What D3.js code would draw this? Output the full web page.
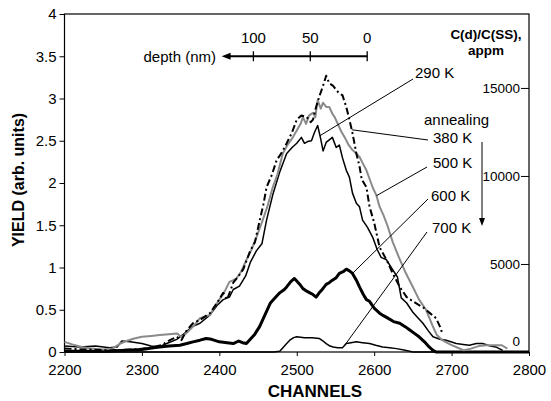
<!DOCTYPE html>
<html>
<head>
<meta charset="utf-8">
<script src="https://cdn.jsdelivr.net/npm/d3@7"></script>
<style>
  html, body { margin: 0; padding: 0; background: #fff; }
  svg { display: block; font-family: "Liberation Sans", Arial, sans-serif; }
</style>
</head>
<body>
<svg id="chart" width="551" height="401"></svg>
<script>
// Channel ticks and yield ticks
const xTicks = [2200, 2300, 2400, 2500, 2600, 2700, 2800];
const yTicks = [0, 0.5, 1, 1.5, 2, 2.5, 3, 3.5, 4];
const concTicks = [0, 5000, 10000, 15000];
const depthTicks = [100, 50, 0];

// RBS yield spectra after annealing: [channel, yield]
const s290 = [[2200,0.07],[2220,0.06],[2240,0.07],[2258,0.05],[2268,0.06],[2274,0.13],[2285,0.12],[2300,0.1],[2312,0.07],[2322,0.06],[2332,0.1],[2345,0.15],[2355,0.22],[2365,0.3],[2375,0.34],[2388,0.44],[2397,0.55],[2405,0.62],[2413,0.65],[2418,0.74],[2426,0.78],[2434,0.9],[2440,1.06],[2448,1.2],[2455,1.28],[2461,1.56],[2469,1.86],[2478,2.13],[2487,2.35],[2494,2.42],[2500,2.47],[2506,2.54],[2510,2.47],[2514,2.49],[2519,2.5],[2523,2.6],[2527,2.68],[2531,2.52],[2534,2.38],[2538,2.48],[2546,2.54],[2551,2.42],[2555,2.45],[2559,2.3],[2564,2.15],[2568,2.07],[2572,1.88],[2577,1.76],[2581,1.72],[2585,1.56],[2591,1.48],[2598,1.36],[2604,1.21],[2609,1.12],[2616,1.09],[2622,1.0],[2630,0.89],[2635,0.64],[2642,0.58],[2650,0.47],[2657,0.4],[2663,0.34],[2670,0.25],[2676,0.18],[2685,0.15],[2693,0.14],[2706,0.1],[2715,0.09],[2723,0.08],[2732,0.1],[2740,0.1],[2750,0.07],[2757,0.06],[2766,0.02]];

const s380 = [[2200,0.04],[2230,0.03],[2260,0.02],[2290,0.03],[2310,0.05],[2325,0.08],[2336,0.14],[2345,0.18],[2351,0.14],[2358,0.26],[2366,0.34],[2375,0.38],[2388,0.46],[2397,0.58],[2405,0.7],[2410,0.62],[2418,0.82],[2425,0.9],[2431,0.98],[2440,1.2],[2446,1.3],[2452,1.55],[2457,1.75],[2461,1.95],[2468,2.1],[2474,2.27],[2480,2.35],[2487,2.47],[2494,2.6],[2500,2.75],[2506,2.8],[2513,2.78],[2518,2.72],[2521,2.75],[2525,2.9],[2529,3.02],[2534,3.15],[2538,3.27],[2542,3.18],[2547,3.15],[2551,3.1],[2555,3.06],[2559,3.04],[2564,2.9],[2568,2.75],[2572,2.59],[2577,2.35],[2581,2.2],[2584,2.04],[2590,1.95],[2594,1.72],[2600,1.53],[2607,1.24],[2616,1.09],[2624,0.93],[2633,0.77],[2642,0.65],[2650,0.6],[2657,0.56],[2663,0.53],[2672,0.46],[2680,0.4],[2685,0.3],[2688,0.22]];

const s500 = [[2200,0.12],[2210,0.09],[2222,0.06],[2235,0.04],[2250,0.03],[2262,0.04],[2272,0.1],[2280,0.13],[2290,0.16],[2300,0.18],[2312,0.19],[2323,0.2],[2335,0.21],[2345,0.22],[2351,0.18],[2357,0.22],[2366,0.3],[2375,0.4],[2382,0.42],[2388,0.44],[2395,0.55],[2400,0.62],[2406,0.7],[2413,0.83],[2418,0.85],[2422,0.87],[2428,0.95],[2435,1.09],[2441,1.2],[2448,1.36],[2456,1.56],[2462,1.72],[2469,1.95],[2475,2.1],[2482,2.35],[2488,2.45],[2495,2.54],[2500,2.62],[2505,2.7],[2508,2.78],[2512,2.7],[2516,2.8],[2521,2.83],[2524,2.78],[2527,2.98],[2531,2.88],[2534,2.95],[2538,2.9],[2542,2.9],[2546,2.82],[2549,2.78],[2555,2.66],[2558,2.6],[2562,2.54],[2567,2.45],[2572,2.39],[2577,2.35],[2581,2.31],[2586,2.22],[2590,2.15],[2594,2.05],[2598,1.95],[2603,1.85],[2607,1.72],[2612,1.62],[2617,1.5],[2624,1.3],[2632,1.12],[2640,0.95],[2650,0.77],[2658,0.62],[2667,0.5],[2675,0.32],[2681,0.2],[2688,0.14],[2698,0.09],[2708,0.05],[2716,0.02],[2725,0.04],[2735,0.07],[2745,0.08],[2755,0.08],[2765,0.08],[2772,0.04]];

const s600 = [[2200,0.01],[2250,0.01],[2280,0.02],[2300,0.03],[2315,0.05],[2323,0.06],[2335,0.07],[2349,0.08],[2358,0.1],[2366,0.12],[2375,0.14],[2383,0.16],[2390,0.15],[2400,0.12],[2410,0.11],[2418,0.1],[2425,0.13],[2430,0.11],[2435,0.1],[2440,0.15],[2445,0.2],[2452,0.3],[2456,0.38],[2461,0.48],[2466,0.58],[2470,0.62],[2478,0.7],[2484,0.74],[2487,0.77],[2492,0.83],[2497,0.87],[2500,0.84],[2504,0.8],[2508,0.75],[2513,0.72],[2517,0.7],[2521,0.68],[2525,0.65],[2529,0.7],[2532,0.73],[2538,0.8],[2542,0.82],[2546,0.85],[2551,0.88],[2555,0.93],[2560,0.95],[2564,0.98],[2568,0.96],[2572,0.93],[2577,0.85],[2581,0.77],[2586,0.68],[2590,0.62],[2594,0.6],[2600,0.52],[2607,0.46],[2612,0.43],[2616,0.41],[2625,0.36],[2633,0.34],[2640,0.3],[2646,0.26],[2652,0.22],[2658,0.18],[2665,0.12],[2671,0.06],[2676,0.02],[2680,0.0],[2800,0.0]];

const s700 = [[2200,0],[2470,0],[2478,0.01],[2483,0.06],[2487,0.1],[2491,0.14],[2496,0.17],[2500,0.18],[2510,0.17],[2520,0.17],[2529,0.16],[2534,0.13],[2538,0.1],[2543,0.07],[2547,0.06],[2553,0.05],[2559,0.05],[2562,0.08],[2564,0.1],[2570,0.11],[2577,0.12],[2585,0.11],[2594,0.1],[2602,0.08],[2611,0.06],[2620,0.05],[2629,0.04],[2640,0.02],[2650,0.0],[2800,0]];

// Series labels and the channel each leader line points at
const seriesNames = ["290 K", "380 K", "500 K", "600 K", "700 K"];
const seriesData = [s290, s380, s500, s600, s700];
const leaderChannels = [2530, 2571, 2603, 2572, 2562];

const svg = d3.select("#chart");
const plotLeft = 64.5, plotRight = 529, plotTop = 14, plotBottom = 352;

const x = d3.scaleLinear().domain([2200, 2800]).range([plotLeft, plotRight]);
const y = d3.scaleLinear().domain([0, 4]).range([plotBottom, plotTop]);
const yConc = d3.scaleLinear().domain([0, 19200]).range([plotBottom, plotTop]);
const depthToChannel = d3.scaleLinear().domain([0, 100]).range([2591, 2444]);

const styles = [
  { stroke: "#000", width: 1.5, dash: null },
  { stroke: "#000", width: 2, dash: "7,3,2,3" },
  { stroke: "#8a8a8a", width: 2, dash: null },
  { stroke: "#000", width: 3, dash: null },
  { stroke: "#000", width: 1.5, dash: null }
];

// Frame
svg.append("rect").attr("x", plotLeft).attr("y", plotTop)
  .attr("width", plotRight - plotLeft).attr("height", plotBottom - plotTop)
  .attr("fill", "none").attr("stroke", "#000").attr("stroke-width", 1.2);

// Curves
const line = d3.line().x(d => x(d[0])).y(d => y(d[1]));
const drawOrder = [4, 3, 0, 2, 1];
drawOrder.forEach(i => {
  svg.append("path").datum(seriesData[i])
    .attr("d", line)
    .attr("fill", "none")
    .attr("stroke", styles[i].stroke)
    .attr("stroke-width", styles[i].width)
    .attr("stroke-linejoin", "round")
    .attr("stroke-dasharray", styles[i].dash);
});

const fontFamily = "Liberation Sans, Arial, sans-serif";

// Left axis
const yAxis = d3.axisLeft(y).tickValues(yTicks).tickSize(5).tickPadding(3)
  .tickFormat(d => String(d));
const gy = svg.append("g").attr("transform", `translate(${plotLeft},0)`).call(yAxis);
gy.select(".domain").remove();
gy.selectAll("text").attr("font-size", 15).attr("font-family", fontFamily);

// Bottom axis
const xAxis = d3.axisBottom(x).tickValues(xTicks).tickSize(4).tickPadding(8)
  .tickFormat(d3.format("d"));
const gx = svg.append("g").attr("transform", `translate(0,${plotBottom})`).call(xAxis);
gx.select(".domain").remove();
gx.selectAll("text").attr("font-size", 15).attr("font-family", fontFamily);

// Right concentration axis (ticks inside)
const cAxis = d3.axisLeft(yConc).tickValues(concTicks).tickSize(8).tickPadding(1)
  .tickFormat(d3.format("d"));
const gc = svg.append("g").attr("transform", `translate(${plotRight},0)`).call(cAxis);
gc.select(".domain").remove();
gc.selectAll("text").attr("font-size", 13.5).attr("font-family", fontFamily);
gc.selectAll(".tick").filter(d => d === 0).select("line").remove();
gc.selectAll(".tick").filter(d => d === 0).select("text").attr("dy", "-0.5em").attr("x", -9);

// Axis titles
svg.append("text").attr("transform", "translate(24,180) rotate(-90)")
  .attr("text-anchor", "middle").attr("font-weight", "bold").attr("font-size", 16)
  .text("YIELD (arb. units)");
svg.append("text").attr("x", 315).attr("y", 397)
  .attr("text-anchor", "middle").attr("font-weight", "bold").attr("font-size", 17)
  .text("CHANNELS");
svg.append("text").attr("x", 486).attr("y", 39)
  .attr("text-anchor", "middle").attr("font-weight", "bold").attr("font-size", 13.5)
  .text("C(d)/C(SS),");
svg.append("text").attr("x", 486).attr("y", 55)
  .attr("text-anchor", "middle").attr("font-weight", "bold").attr("font-size", 13.5)
  .text("appm");

// Depth scale drawn on top of the plot
const depthY = y(3.5);
const arrowTip = x(2403);
svg.append("line").attr("x1", x(depthToChannel(0))).attr("x2", arrowTip + 6)
  .attr("y1", depthY).attr("y2", depthY).attr("stroke", "#000").attr("stroke-width", 2);
svg.append("path")
  .attr("d", `M${arrowTip},${depthY} L${arrowTip + 9},${depthY - 3.5} L${arrowTip + 9},${depthY + 3.5} Z`)
  .attr("fill", "#000");
depthTicks.forEach(d => {
  const px = x(depthToChannel(d));
  svg.append("line").attr("x1", px).attr("x2", px)
    .attr("y1", depthY - 5).attr("y2", depthY + 5).attr("stroke", "#000").attr("stroke-width", 1.3);
  svg.append("text").attr("x", px).attr("y", 43).attr("text-anchor", "middle")
    .attr("font-size", 15).text(d);
});
svg.append("text").attr("x", 216).attr("y", 62).attr("text-anchor", "end")
  .attr("font-size", 15).text("depth (nm)");

// Annealing direction arrow
svg.append("text").attr("x", 424).attr("y", 125).attr("font-size", 15).text("annealing");
svg.append("line").attr("x1", 482).attr("x2", 482).attr("y1", 142).attr("y2", 219)
  .attr("stroke", "#000").attr("stroke-width", 1);
svg.append("path").attr("d", "M482,226 L479,218 L485,218 Z").attr("fill", "#000");

// Series labels with leader lines to their curves
function valueAt(series, ch) {
  for (let k = 1; k < series.length; k++) {
    if (series[k][0] >= ch) {
      const [x0, y0] = series[k - 1], [x1, y1] = series[k];
      return y0 + (y1 - y0) * (ch - x0) / (x1 - x0);
    }
  }
  return series[series.length - 1][1];
}
const labelPos = [[415, 78, 413, 79], [433, 143, 428, 140], [433, 168, 427, 167], [431, 201, 428, 199], [432, 233, 427, 232]];
seriesNames.forEach((name, i) => {
  const [tx, ty, lx, ly] = labelPos[i];
  const ch = leaderChannels[i];
  svg.append("line").attr("x1", lx).attr("y1", ly)
    .attr("x2", x(ch)).attr("y2", y(valueAt(seriesData[i], ch)))
    .attr("stroke", "#000").attr("stroke-width", 1);
  svg.append("text").attr("x", tx).attr("y", ty).attr("font-size", 15).text(name);
});
</script>
</body>
</html>
